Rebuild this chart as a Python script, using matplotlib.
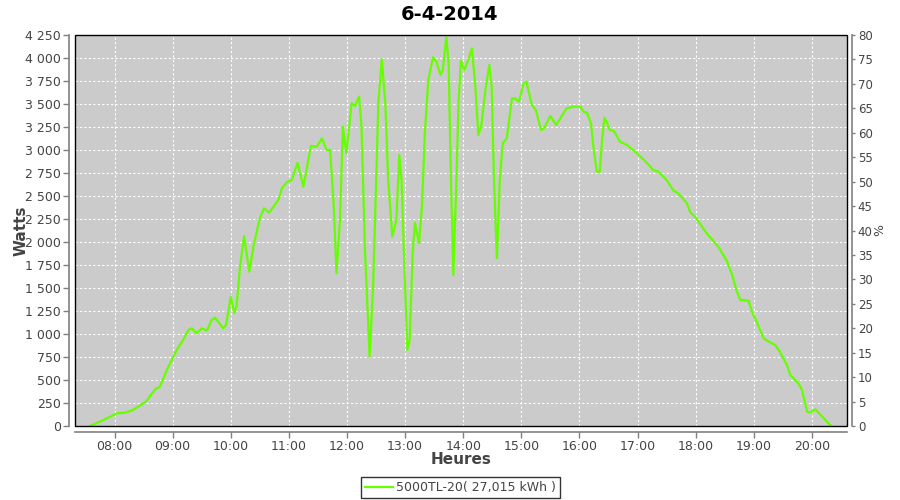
import numpy as np
import matplotlib
matplotlib.use('Agg')
import matplotlib.pyplot as plt
from matplotlib.ticker import FuncFormatter, MultipleLocator
from matplotlib.patches import Rectangle

# data (decimal hours, watts)
hours = [7.58, 7.81, 8.04, 8.18, 8.30, 8.41, 8.55, 8.70, 8.78, 8.90,
         9.07, 9.18, 9.27, 9.33, 9.41, 9.50, 9.59, 9.67, 9.73, 9.80,
         9.87, 9.92, 10.00, 10.06, 10.10, 10.16, 10.23, 10.32, 10.39, 10.50,
         10.57, 10.66, 10.82, 10.88, 10.96, 11.05, 11.15, 11.25, 11.38, 11.48,
         11.57, 11.65, 11.71, 11.77, 11.82, 11.88, 11.93, 11.99, 12.08, 12.14,
         12.21, 12.25, 12.31, 12.39, 12.45, 12.54, 12.60, 12.66, 12.71, 12.78,
         12.85, 12.90, 12.94, 12.98, 13.04, 13.08, 13.13, 13.17, 13.24, 13.29,
         13.34, 13.40, 13.48, 13.54, 13.61, 13.65, 13.71, 13.75, 13.79, 13.83,
         13.88, 13.92, 13.96, 14.02, 14.09, 14.15, 14.21, 14.26, 14.31, 14.39,
         14.45, 14.49, 14.53, 14.58, 14.63, 14.68, 14.75, 14.84, 14.89, 14.96,
         15.04, 15.09, 15.18, 15.25, 15.34, 15.39, 15.50, 15.60, 15.78, 15.90,
         16.02, 16.07, 16.13, 16.20, 16.24, 16.30, 16.35, 16.39, 16.43, 16.47,
         16.52, 16.59, 16.70, 16.82, 16.99, 17.16, 17.27, 17.36, 17.50, 17.62,
         17.70, 17.85, 17.91, 17.99, 18.11, 18.19, 18.39, 18.53, 18.62, 18.71,
         18.77, 18.91, 18.97, 19.05, 19.17, 19.26, 19.37, 19.45, 19.57, 19.63,
         19.77, 19.83, 19.92, 19.97, 20.06, 20.15, 20.26, 20.33]
watts = [0, 65, 138, 145, 170, 210, 272, 399, 427, 609,
         826, 935, 1043, 1062, 1007, 1062, 1036, 1152, 1177, 1120,
         1062, 1100, 1405, 1225, 1300, 1731, 2065, 1677, 1949, 2258,
         2366, 2319, 2457, 2584, 2649, 2674, 2862, 2601, 3044, 3036,
         3127, 3000, 3000, 2421, 1660, 2239, 3253, 2964, 3508, 3478,
         3580, 3253, 1913, 753, 1514, 3508, 3986, 3508, 2674, 2058,
         2239, 2946, 2674, 1877, 826, 935, 1877, 2210, 1986, 2384,
         3182, 3761, 4008, 3960, 3815, 3870, 4232, 3942, 2674, 1641,
         2601, 3508, 3971, 3870, 3978, 4105, 3688, 3163, 3253, 3688,
         3924, 3688, 2674, 1823, 2674, 3073, 3127, 3562, 3562, 3525,
         3725, 3743, 3489, 3435, 3218, 3235, 3370, 3272, 3453, 3471,
         3471, 3417, 3406, 3290, 3036, 2764, 2764, 3109, 3351, 3308,
         3218, 3210, 3090, 3055, 2964, 2862, 2783, 2764, 2674, 2558,
         2529, 2421, 2319, 2275, 2166, 2094, 1949, 1804, 1660, 1460,
         1370, 1362, 1242, 1134, 953, 916, 880, 808, 663, 554,
         464, 391, 155, 145, 181, 120, 47, 0]

tick_hours = list(range(8, 21))
tick_labels = ["%02d:00" % h for h in tick_hours]
series_label = "5000TL-20( 27,015 kWh )"
title = "6-4-2014"

GRAY = '#808080'
TXT = '#444444'

fig = plt.figure(figsize=(9, 5), dpi=100)
ax = fig.add_axes([75/900, 1-426/500, (846.7-75)/900, (426-35)/500])
ax.set_facecolor('#CBCBCB')

ln, = ax.plot(hours, watts, color='#66FF00', lw=1.6, label=series_label, zorder=3)

ax.set_xlim(7.32, 20.60)
ax.set_ylim(0, 4250)
ax.set_xticks(tick_hours)
ax.set_xticklabels(tick_labels)
ax.yaxis.set_major_locator(MultipleLocator(250))
ax.yaxis.set_major_formatter(FuncFormatter(lambda v, p: format(int(v), ',').replace(',', ' ')))
ax.grid(True, color='white', ls=(0, (2, 2)), lw=0.8)
ax.set_axisbelow(True)

ax2 = ax.twinx()
ax2.set_ylim(0, 80)
ax2.yaxis.set_major_locator(MultipleLocator(5))

for a in (ax, ax2):
    for s in a.spines.values():
        s.set_visible(False)
ax.tick_params(colors=GRAY, labelcolor=TXT, labelsize=9, length=4, width=1, pad=2)
ax2.tick_params(colors=GRAY, labelcolor=TXT, labelsize=8.5, length=2, width=1, pad=2)
ax.spines['left'].set_visible(True)
ax.spines['bottom'].set_visible(True)
ax2.spines['right'].set_visible(True)
for s in (ax.spines['left'], ax.spines['bottom'], ax2.spines['right']):
    s.set_position(('outward', 4))
    s.set_color(GRAY)
    s.set_linewidth(1.2)

# black frame around the plot area
ax2.add_patch(Rectangle((0, 0), 1, 1, transform=ax.transAxes, fill=False,
                        ec='black', lw=1.0, zorder=5, clip_on=False))

ax.set_ylabel("Watts", fontsize=11, fontweight='bold', color=TXT, va='center')
ax.yaxis.set_label_coords((21-75)/771.7, 0.5)
ax.set_xlabel("Heures", fontsize=11, fontweight='bold', color=TXT, va='center')
ax.xaxis.set_label_coords(0.5, (426-460)/391)
ax2.set_ylabel("%", fontsize=9, color=TXT, va='center')
ax2.yaxis.set_label_coords((880-75)/771.7, 0.5)
fig.text(0.5, 0.972, title, ha='center', va='center', fontsize=14, fontweight='bold')

leg = fig.legend(handles=[ln], loc='center', bbox_to_anchor=(0.512, 0.025),
                 fontsize=9, frameon=True, fancybox=False, handlelength=2.2,
                 handletextpad=0.3, borderpad=0.3, borderaxespad=0)
leg.get_frame().set_edgecolor('black')
leg.get_frame().set_linewidth(1)
for t in leg.get_texts():
    t.set_color(TXT)

fig.savefig('out.png', dpi=100)
